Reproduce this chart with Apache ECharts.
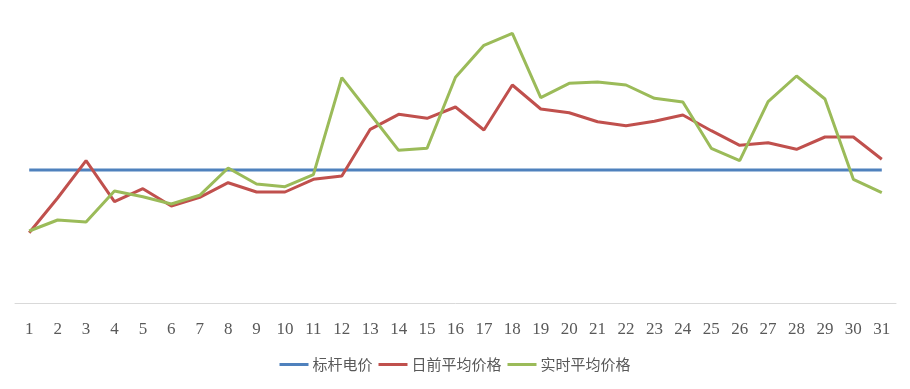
<!DOCTYPE html>
<html>
<head>
<meta charset="utf-8">
<script src="https://cdn.jsdelivr.net/npm/echarts@6/dist/echarts.min.js"></script>
<style>
html,body{margin:0;padding:0;background:#fff;}
#c{width:910px;height:389px;}
</style>
</head>
<body>
<div id="c"></div>
<script>
var categories = ['1','2','3','4','5','6','7','8','9','10','11','12','13','14','15','16','17','18','19','20','21','22','23','24','25','26','27','28','29','30','31'];
var benchmark = [133,133,133,133,133,133,133,133,133,133,133,133,133,133,133,133,133,133,133,133,133,133,133,133,133,133,133,133,133,133,133];
var dayAhead = [70.3,105,142.3,101.3,114.3,97,105.7,120.3,111,111,123.7,127,173.7,188.7,184.7,196,173,218,194,190.3,181.3,177.3,181.7,188,172.3,157.7,160.3,153.7,166,166,143.7];
var realTime = [72,83,81,112,106.3,99,107.7,135,119,116.3,128.3,225.3,189,152.7,154.7,225.7,257.7,269.7,205.3,219.7,221,218,204.7,201,154.7,142.3,201.3,227,204,123.7,110.3];
var seriesNames = ['标杆电价','日前平均价格','实时平均价格'];
var colors = ['#4F81BD','#C0504D','#9BBB59'];

var chart = echarts.init(document.getElementById('c'));
function mk(name, data, color){
  return {name:name,type:'line',data:data,symbol:'none',smooth:false,
    lineStyle:{color:color,width:3},itemStyle:{color:color}};
}
chart.setOption({
  animation:false,
  color:colors,
  grid:{left:15,right:14,top:3,bottom:86,containLabel:false},
  xAxis:{type:'category',data:categories,boundaryGap:true,
    axisLine:{lineStyle:{color:'#D9D9D9',width:1}},
    axisTick:{show:false},
    axisLabel:{color:'#595959',fontFamily:'Liberation Serif',fontSize:17,margin:18,interval:0}},
  yAxis:{type:'value',min:0,max:300,show:false,splitLine:{show:false}},
  legend:{bottom:12,left:'center',itemGap:6,icon:'rect',itemWidth:29,itemHeight:3,
    textStyle:{color:'#595959',fontFamily:'Noto Sans CJK SC',fontSize:15,padding:[0,0,0,-1]},
    data:seriesNames},
  series:[mk(seriesNames[0],benchmark,colors[0]),mk(seriesNames[1],dayAhead,colors[1]),mk(seriesNames[2],realTime,colors[2])]
});
</script>
</body>
</html>
